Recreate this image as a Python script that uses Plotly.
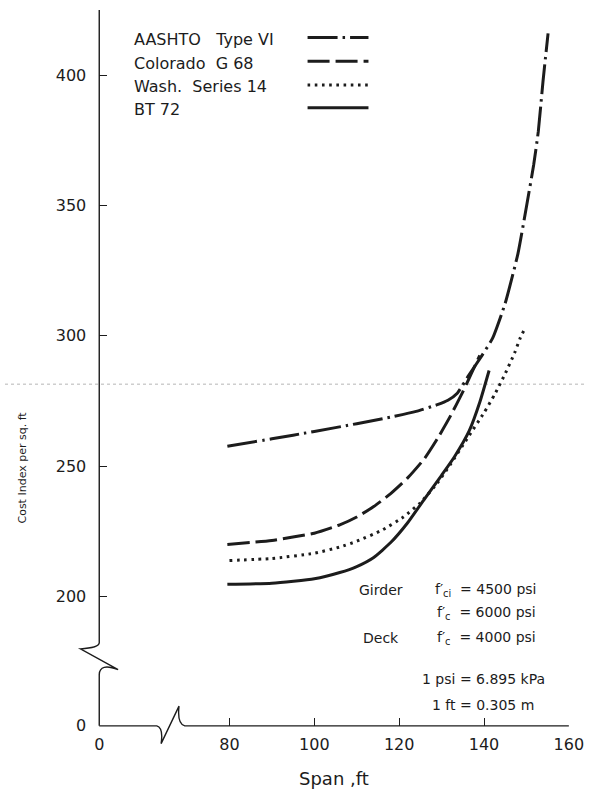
import plotly.graph_objects as go

W, H = 600, 804

# ---------------- data ----------------
aashto_x = [79.5, 90, 100, 110, 118, 124, 129, 131.5, 133.7, 136.4, 139.5, 142, 145, 148, 150, 151.7, 152.8, 153.9, 155.1]
aashto_y = [257.6, 260.5, 263.3, 266.3, 268.8, 271.0, 273.6, 275.3, 278.0, 284.8, 292.4, 299.0, 312.5, 331.5, 349.5, 365.5, 378.4, 397.5, 416.0]

colorado_x = [79.5, 90, 100, 106, 110, 114, 118, 122, 126, 129, 132, 135, 137, 139]
colorado_y = [220.0, 221.5, 224.3, 227.5, 230.5, 234.5, 239.5, 245.5, 253.0, 260.5, 269.0, 278.5, 285.5, 292.5]

wash_x = [80, 90, 100, 106, 110, 116, 121, 125, 129, 132, 136, 140, 142.5, 145, 147.2, 148.6, 149.5]
wash_y = [213.8, 214.6, 216.6, 219.0, 221.2, 225.5, 230.5, 236.0, 243.5, 250.5, 260.5, 270.5, 277.5, 285.5, 293.4, 299.4, 302.3]

bt72_x = [79.5, 90, 100, 106, 110, 114, 118, 122, 126, 130, 133, 136.5, 139, 141.2]
bt72_y = [204.7, 205.1, 206.8, 209.2, 211.5, 215.0, 220.7, 228.3, 237.5, 246.5, 253.5, 263.5, 274.5, 286.7]

series_names = ["AASHTO   Type VI", "Colorado  G 68", "Wash.  Series 14", "BT 72"]

x_ticks = [80, 100, 120, 140, 160]
y_ticks = [200, 250, 300, 350, 400]
break_label = "0"

x_title = "Span ,ft"
y_title = "Cost Index per sq. ft"

notes_left = ["Girder", "", "Deck"]
notes_fsub = ["ci", "c", "c"]
notes_right = ["= 4500 psi", "= 6000 psi", "= 4000 psi"]
units = ["1 psi = 6.895 kPa", "1 ft = 0.305 m"]

# ---------------- styling ----------------
INK = "#1c1c1c"
FONT = "DejaVu Sans"
LW = 3.0
dashes = ["30px,5px,2.5px,5px", "22px,6px", "2.6px,4.6px", "solid"]

# axis geometry (pixels of the 600x804 page)
AX_LEFT, AX_RIGHT = 97.5, 583.3
AX_TOP, AX_BOTTOM = 10.0, 735.0
x_min, x_max = 49.3, 160.0
y_min, y_max = 150.4, 425.0


def px(xp):
    return xp / W


def py(yp):
    return 1 - yp / H


fig = go.Figure()
all_series = [(aashto_x, aashto_y), (colorado_x, colorado_y), (wash_x, wash_y), (bt72_x, bt72_y)]
for (xs, ys), name, dash in zip(all_series, series_names, dashes):
    fig.add_trace(go.Scatter(
        x=xs, y=ys, mode="lines", name=name,
        line=dict(color=INK, width=LW, dash=dash, shape="spline", smoothing=0.5),
        showlegend=False, hoverinfo="skip",
    ))

shapes = []
# broken y-axis line
shapes.append(dict(
    type="path", xref="paper", yref="paper",
    path=(f"M {px(AX_LEFT)},{py(AX_TOP)} L {px(AX_LEFT)},{py(651)} "
          f"Q {px(97)},{py(656)} {px(78)},{py(657)} "
          f"L {px(117)},{py(678)} "
          f"Q {px(98)},{py(671)} {px(AX_LEFT)},{py(683)} "
          f"L {px(AX_LEFT)},{py(AX_BOTTOM)}"),
    line=dict(color=INK, width=1.4), layer="above",
))
# broken x-axis line
shapes.append(dict(
    type="path", xref="paper", yref="paper",
    path=(f"M {px(AX_LEFT)},{py(AX_BOTTOM)} L {px(157)},{py(AX_BOTTOM)} "
          f"Q {px(164)},{py(737)} {px(161.5)},{py(753)} "
          f"L {px(180)},{py(715)} "
          f"Q {px(178)},{py(733)} {px(186)},{py(AX_BOTTOM)} "
          f"L {px(AX_RIGHT)},{py(AX_BOTTOM)}"),
    line=dict(color=INK, width=1.4), layer="above",
))
# faint scan line
shapes.append(dict(type="line", xref="paper", yref="paper",
                   x0=0, x1=1, y0=py(389), y1=py(389),
                   line=dict(color="#b5b5b5", width=1, dash="dot"), layer="below"))

annotations = []
# legend (text + line samples)
leg_rows = [40, 64, 88, 111]
for name, dash, yr in zip(series_names, dashes, leg_rows):
    annotations.append(dict(xref="paper", yref="paper", x=px(131), y=py(yr),
                            text=name, showarrow=False, xanchor="left", yanchor="middle",
                            font=dict(family=FONT, size=16, color=INK)))
    shapes.append(dict(type="line", xref="paper", yref="paper",
                       x0=px(313), x1=px(376), y0=py(yr - 2), y1=py(yr - 2),
                       line=dict(color=INK, width=LW, dash=dash)))

# notes block
note_rows = [597, 621, 646]
for left, sub, right, yr in zip(notes_left, notes_fsub, notes_right, note_rows):
    if left:
        annotations.append(dict(xref="paper", yref="paper", x=px(389), y=py(yr),
                                text=left, showarrow=False, xanchor="center", yanchor="middle",
                                font=dict(family=FONT, size=14, color=INK)))
    annotations.append(dict(xref="paper", yref="paper", x=px(551), y=py(yr),
                            text=f"f′<sub>{sub}</sub>  {right}", showarrow=False,
                            xanchor="right", yanchor="middle",
                            font=dict(family=FONT, size=14, color=INK)))
for text, yr, xr in zip(units, [688, 714], [561, 549]):
    annotations.append(dict(xref="paper", yref="paper", x=px(xr), y=py(yr),
                            text=text, showarrow=False, xanchor="right", yanchor="middle",
                            font=dict(family=FONT, size=14, color=INK)))

# axis titles
annotations.append(dict(xref="paper", yref="paper", x=px(18), y=py(473),
                        text=y_title, textangle=-90, showarrow=False,
                        xanchor="center", yanchor="middle",
                        font=dict(family=FONT, size=11, color=INK)))
annotations.append(dict(xref="paper", yref="paper", x=px(340), y=py(788),
                        text=x_title, showarrow=False, xanchor="center", yanchor="middle",
                        font=dict(family=FONT, size=18, color=INK)))

fig.update_layout(
    width=W, height=H,
    margin=dict(l=0, r=0, t=0, b=0),
    paper_bgcolor="white", plot_bgcolor="white",
    shapes=shapes, annotations=annotations,
    xaxis=dict(
        domain=[px(AX_LEFT), px(AX_RIGHT)], range=[x_min, x_max],
        tickvals=[x_min] + x_ticks, ticktext=[break_label] + [str(v) for v in x_ticks],
        ticks="inside", ticklen=8, tickwidth=1.3, tickcolor=INK,
        showline=False, showgrid=False, zeroline=False, ticklabelstandoff=7,
        tickfont=dict(family=FONT, size=16, color=INK),
    ),
    yaxis=dict(
        domain=[py(AX_BOTTOM), py(AX_TOP)], range=[y_min, y_max],
        tickvals=[y_min] + y_ticks, ticktext=[break_label] + [str(v) for v in y_ticks],
        ticks="inside", ticklen=8, tickwidth=1.3, tickcolor=INK,
        showline=False, showgrid=False, zeroline=False, ticklabelstandoff=12,
        tickfont=dict(family=FONT, size=16, color=INK),
    ),
)

fig.write_html("out.html")
